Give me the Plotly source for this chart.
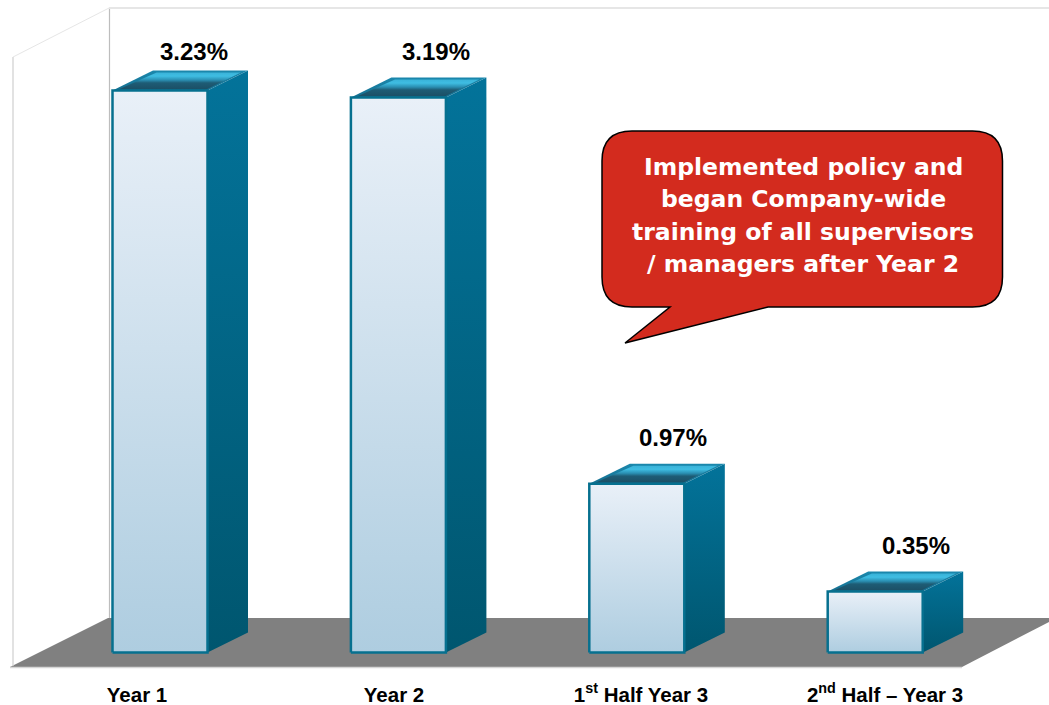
import plotly.graph_objects as go

# ---- data ----
categories = ["Year 1", "Year 2", "1<sup>st</sup> Half Year 3", "2<sup>nd</sup> Half – Year 3"]
rates = [3.23, 3.19, 0.97, 0.35]
rate_labels = ["3.23%", "3.19%", "0.97%", "0.35%"]
callout_lines = ["Implemented policy and", "began Company-wide",
                 "training of all supervisors", "/ managers after Year 2"]

# ---- layout constants (pixels of the 1049x705 page) ----
W, H, BOTTOM = 1049, 705, 25
X0_PX, STEP_PX = 160.0, 238.4      # centre of first bar, spacing of bars
Y0_PX, UNIT_PX = 652.5, 174.0      # baseline, pixels per 1 %
HALF_PX, DX_PX, DY_PX = 47.5, 40.5, 20   # half bar width and 3D depth

def xd(px):  # page pixel -> x data
    return (px - X0_PX) / STEP_PX

def yd(py):  # page pixel -> y data
    return (Y0_PX - py) / UNIT_PX

half = HALF_PX / STEP_PX
dx = DX_PX / STEP_PX
dy = DY_PX / UNIT_PX
label_dx = [34 / STEP_PX, 37.5 / STEP_PX, 36 / STEP_PX, 41 / STEP_PX]
label_dy = [38.5 / UNIT_PX, 45.5 / UNIT_PX, 46 / UNIT_PX, 46 / UNIT_PX]
tick_px = [137, 394, 641, 885]
line_py = [167, 199, 232, 264]

fig = go.Figure()

# real bars (base layer), gradient faces are painted on them
fig.add_trace(go.Bar(x=list(range(len(rates))), y=rates, width=2 * half,
                     marker=dict(color="#c8dcea", line=dict(width=0)),
                     hoverinfo="skip", showlegend=False))

def poly(xs, ys, stops, v0, v1, line=None, lw=0):
    fig.add_trace(go.Scatter(
        x=xs + xs[:1], y=ys + ys[:1], mode="lines", fill="toself",
        fillgradient=dict(type="vertical", colorscale=stops, start=v0, stop=v1),
        line=dict(color=line or "rgba(0,0,0,0)", width=lw),
        hoverinfo="skip", showlegend=False))

for i, v in enumerate(rates):
    l, r = i - half, i + half
    # side face
    poly([r, r + dx, r + dx, r], [0, dy, v + dy, v],
         [[0, "#00566f"], [1, "#03739a"]], 0, v + dy)
    # top face: outer rim
    poly([l, l + dx, r + dx, r], [v, v + dy, v + dy, v],
         [[0, "#156f90"], [1, "#1b88ad"]], v, v + dy)
    # top face: inner bevel
    ins_x = 6 / STEP_PX
    ins_y = 2 / UNIT_PX
    poly([l + ins_x, l + dx + ins_x * 0.6, r + dx - ins_x * 1.2, r - ins_x * 0.2],
         [v + ins_y * 0.5, v + dy - ins_y, v + dy - ins_y, v + ins_y * 0.5],
         [[0, "#1b4d63"], [0.42, "#1e5c75"], [0.58, "#2a8fb2"], [0.8, "#3fbde2"], [1, "#39b2d8"]],
         v, v + dy - ins_y)
    # front face
    poly([l, r, r, l], [0, 0, v, v],
         [[0, "#aecde0"], [1, "#e9f0f8"]], 0, v, line="#06708f", lw=2.5)

shapes = []
def line(x0, y0, x1, y1, color, width=1):
    shapes.append(dict(type="line", xref="x", yref="y", x0=xd(x0), y0=yd(y0), x1=xd(x1), y1=yd(y1),
                       line=dict(color=color, width=width), layer="below"))

# floor
def P(x, y):
    return f"{xd(x):.5f},{yd(y):.5f}"

shapes.append(dict(type="path", xref="x", yref="y", layer="below",
                   path=f"M{P(10,667)} L{P(108,618)} L{P(1049,618)} L{P(1049,622)} L{P(962,667)} Z",
                   fillcolor="#808080", line=dict(width=0)))
line(10, 667.5, 962, 667.5, "#d6d6d6", 1.5)
# walls
line(13, 57, 13, 666, "#cfcfcf", 1.2)
line(13, 57, 109, 8, "#e6e6e6", 1)
line(109.5, 8, 109.5, 618, "#bdbdbd", 1.2)
line(109, 8, 1049, 8, "#e6e6e6", 2)

# callout
L, R, T, B, C = 602, 1002.5, 131, 307, 30
path = (f"M{P(L+C,T)} L{P(R-C,T)} Q{P(R,T)} {P(R,T+C)} L{P(R,B-C)} Q{P(R,B)} {P(R-C,B)} "
        f"L{P(768,B)} L{P(625,343)} L{P(670,B)} L{P(L+C,B)} Q{P(L,B)} {P(L,B-C)} "
        f"L{P(L,T+C)} Q{P(L,T)} {P(L+C,T)} Z")
shapes.append(dict(type="path", xref="x", yref="y", layer="above", path=path,
                   fillcolor="#D32B1E", line=dict(color="#000000", width=1.5)))

annotations = [dict(x=i + label_dx[i], y=rates[i] + label_dy[i], text=f"<b>{rate_labels[i]}</b>",
                    showarrow=False, xanchor="center", yanchor="middle",
                    font=dict(family="Liberation Sans", size=24, color="#000000"))
               for i in range(len(rates))]
for txt, py in zip(callout_lines, line_py):
    annotations.append(dict(x=xd(803), y=yd(py), text=f"<b>{txt}</b>", showarrow=False,
                            xanchor="center", yanchor="middle", align="center",
                            font=dict(family="DejaVu Sans", size=23.5, color="#ffffff")))

fig.update_layout(
    width=W, height=H, margin=dict(l=0, r=0, t=0, b=BOTTOM, pad=0),
    paper_bgcolor="white", plot_bgcolor="white", showlegend=False,
    shapes=shapes, annotations=annotations, hovermode=False,
    xaxis=dict(range=[xd(0), xd(W)], tickmode="array", tickvals=[xd(p) for p in tick_px],
               ticktext=[f"<b>{c}</b>" for c in categories], showgrid=False, zeroline=False,
               showline=False, ticks="", tickangle=0, automargin=False,
               tickfont=dict(family="Liberation Sans", size=20.5, color="#000000")),
    yaxis=dict(range=[yd(H - BOTTOM), yd(0)], showgrid=False, zeroline=False, showline=False,
               showticklabels=False, ticks="", automargin=False),
)

fig.write_html("out.html", config={"displayModeBar": False},
               post_script="document.body.style.margin='0';document.documentElement.style.overflow='hidden';")
